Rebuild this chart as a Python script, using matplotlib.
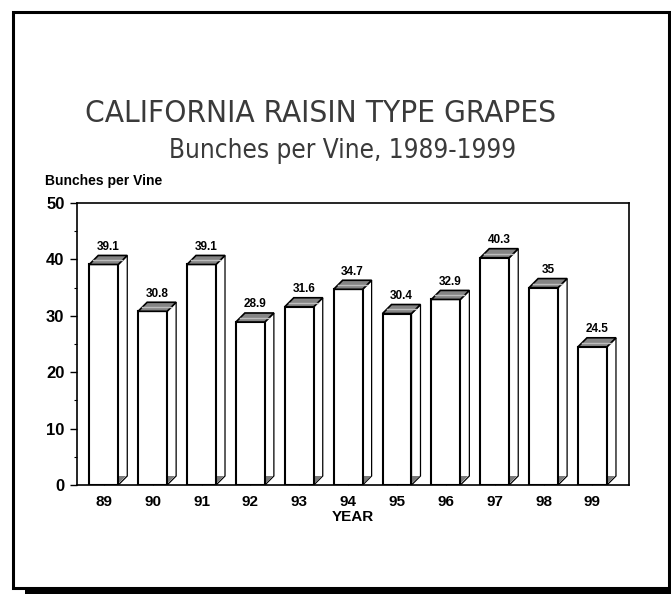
import matplotlib
matplotlib.use("Agg")
import matplotlib.pyplot as plt
from matplotlib import font_manager
from matplotlib.patches import Rectangle, Polygon

years = ["89", "90", "91", "92", "93", "94", "95", "96", "97", "98", "99"]
bunches = [39.1, 30.8, 39.1, 28.9, 31.6, 34.7, 30.4, 32.9, 40.3, 35, 24.5]
value_labels = ["39.1", "30.8", "39.1", "28.9", "31.6", "34.7", "30.4", "32.9", "40.3", "35", "24.5"]
yticks = [0, 10, 20, 30, 40, 50]

plt.rcParams["font.family"] = ["Liberation Sans", "DejaVu Sans"]

W, H = 671, 594
fig = plt.figure(figsize=(W / 100, H / 100), dpi=100)
fig.patch.set_facecolor("white")

def fx(x):
    return x / W

def fy(y):
    return 1 - y / H

# shadow and frame
fig.patches.append(Rectangle((fx(25), fy(600)), fx(680) - fx(25), fy(18) - fy(600),
                             transform=fig.transFigure, facecolor="black", edgecolor="none", zorder=0))
fig.patches.append(Rectangle((fx(12.5), fy(587.5)), fx(668.5) - fx(12.5), fy(11.5) - fy(587.5),
                             transform=fig.transFigure, facecolor="white", edgecolor="black",
                             linewidth=2.2, zorder=1))

# titles (condensed face if available)
title = fig.text(fx(321), fy(114), "CALIFORNIA RAISIN TYPE GRAPES", ha="center", va="center",
                 color="#3a3a3a", fontsize=26, family=["DejaVu Sans"], fontstretch="condensed",
                 zorder=5)
sub = fig.text(fx(343), fy(151), "Bunches per Vine, 1989-1999", ha="center", va="center",
               color="#3a3a3a", fontsize=20, family=["DejaVu Sans"], fontstretch="condensed",
               zorder=5)
fig.text(fx(45), fy(181), "Bunches per Vine", ha="left", va="center", fontweight="bold",
         fontsize=10, zorder=5)

fig.canvas.draw()
r = fig.canvas.get_renderer()
for t, target in ((title, 472), (sub, 347)):
    w = t.get_window_extent(r).width
    t.set_fontsize(t.get_fontsize() * target / w)

ax = fig.add_axes([fx(77), fy(485), fx(629) - fx(77), fy(203) - fy(485)])
ax.set_zorder(3)
ax.patch.set_facecolor("white")

x = list(range(len(years)))
bw = 0.593
dx = 0.184
dy = 1.6

ax.bar(x, bunches, width=bw, color="white", edgecolor="black", linewidth=1.5, zorder=4)
for xi, h, lab in zip(x, bunches, value_labels):
    xl, xr = xi - bw / 2, xi + bw / 2
    ax.add_patch(Polygon([(xr, 0), (xr + dx, dy), (xr + dx, h + dy), (xr, h)], closed=True,
                         facecolor="white", edgecolor="black", linewidth=0.9, zorder=3))
    ax.add_patch(Polygon([(xr, 0.15), (xr, dy), (xr + dx * 0.9, dy)], closed=True,
                         facecolor="#7a7a7a", edgecolor="none", zorder=3.5))
    ax.add_patch(Polygon([(xl, h), (xl + dx, h + dy), (xr + dx, h + dy), (xr, h)], closed=True,
                         facecolor="#858585", edgecolor="black", linewidth=1.2, zorder=5))
    ax.plot([xl + dx * 0.45, xr + dx * 0.45], [h + dy * 0.45, h + dy * 0.45],
            color="#bdbdbd", linewidth=1.0, zorder=5.5)
    ax.text(xi + dx / 2, h + dy + 1.55, lab, ha="center", va="center", fontweight="bold",
            fontsize=8.5, zorder=6)

ax.set_xlim(-0.548, 10.747)
ax.set_ylim(0, 50)
ax.set_yticks(yticks)
ax.set_yticklabels([str(v) for v in yticks], fontweight="bold", fontsize=12)
ax.set_yticks([5, 15, 25, 35, 45], minor=True)
ax.tick_params(axis="y", which="major", direction="out", length=5, width=1, pad=4)
ax.tick_params(axis="y", which="minor", direction="out", length=2.5, width=0.8)
ax.set_xticks(x)
ax.set_xticklabels(years, fontweight="bold", fontsize=11)
ax.tick_params(axis="x", which="major", direction="in", length=4.5, width=0.8, color="#666666", pad=7)
ax.set_xlabel("YEAR", fontweight="bold", fontsize=11, labelpad=1)
for s in ax.spines.values():
    s.set_linewidth(1.2)

fig.savefig("out.png", dpi=100, facecolor="white")
